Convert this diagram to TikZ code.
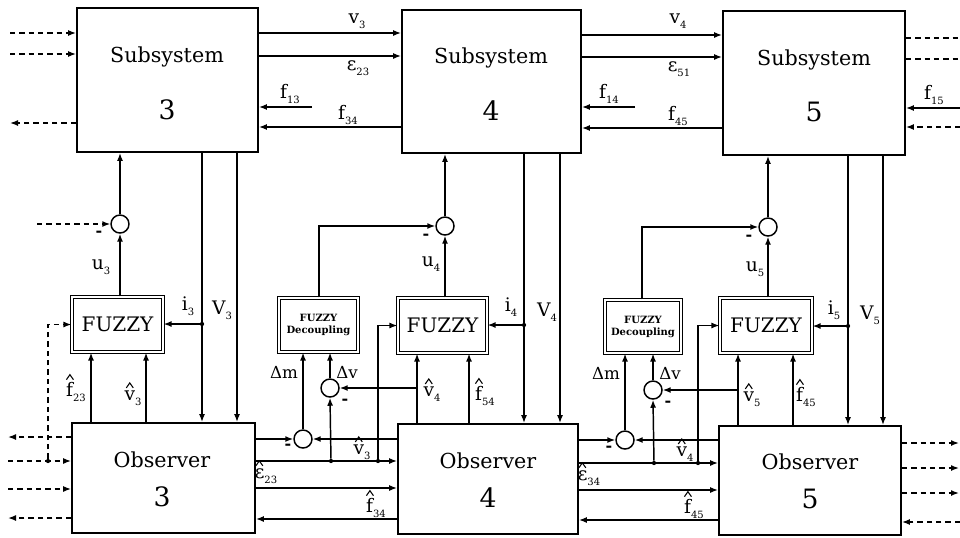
\documentclass[tikz,border=0pt]{standalone}
\usepackage{fontspec}
\setmainfont{DejaVu Serif}
\usetikzlibrary{arrows.meta,fit,calc}
\newcommand\sbs[1]{\raisebox{-0.5ex}{\fontsize{7.5}{7.5}\selectfont #1}}
\newcommand\hatmark[2]{\draw[hatst] ($(#1.north west)+(#2,0)+(-3.5,-2.5)$) -- ++(3.5,-5) -- ++(3.5,5);}
\tikzset{
  box/.style={draw, line width=1.3pt, inner sep=0pt},
  fz/.style={draw, double, double distance=1.4pt, line width=0.8pt, inner sep=0pt},
  sumc/.style={circle, draw, line width=1.1pt, minimum size=13.5pt, inner sep=0pt},
  ln/.style={line width=1.1pt},
  hatst/.style={line width=0.8pt, line join=miter},
  conn/.style={ln, -{Latex[length=6pt,width=4.5pt]}},
  dsh/.style={conn, dash pattern=on 4pt off 3pt},
  dshl/.style={ln, dash pattern=on 4pt off 3pt},
  lab/.style={font=\fontsize{14}{14}\selectfont, inner sep=0pt},
  dlab/.style={font=\fontsize{12.5}{12.5}\selectfont, inner sep=0pt},
  ttl/.style={font=\fontsize{15.5}{16}\selectfont, inner sep=0pt},
  num/.style={font=\fontsize{20}{20}\selectfont, inner sep=0pt},
  fzt/.style={font=\fontsize{15}{15}\selectfont, inner sep=0pt},
  dect/.style={font=\bfseries\fontsize{7.5}{9}\selectfont, align=center, inner sep=0pt},
  dotn/.style={circle, fill, minimum size=3.2pt, inner sep=0pt},
  minus/.style={font=\bfseries\fontsize{12}{12}\selectfont, inner sep=0pt}
}
\begin{document}
\begin{tikzpicture}[x=0.75pt,y=-0.75pt]
\useasboundingbox (0,0) rectangle (960,537);
% ---- boxes
\node[box, fit={(77,8)(258,152)}] (s3) {};
\node[box, fit={(402,10)(581,153)}] (s4) {};
\node[box, fit={(723,11)(905,155)}] (s5) {};
\node[ttl] (s3a) at (167,57) {Subsystem};
\node[num] (s3b) at (167,110) {3};
\node[ttl] (s4a) at (491,58) {Subsystem};
\node[num] (s4b) at (491,111) {4};
\node[ttl] (s5a) at (814,60) {Subsystem};
\node[num] (s5b) at (814,112) {5};

\node[box, fit={(72,423)(255,533)}] (o3) {};
\node[box, fit={(398,424)(578,534)}] (o4) {};
\node[box, fit={(719,426)(901,535)}] (o5) {};
\node[ttl] (o3a) at (162,460) {Observer};
\node[num] (o3b) at (162,497) {3};
\node[ttl] (o4a) at (488,461) {Observer};
\node[num] (o4b) at (488,498) {4};
\node[ttl] (o5a) at (810,462) {Observer};
\node[num] (o5b) at (810,499) {5};

\node[fz, fit={(72,297)(163,352)}] (f3) {};
\node[fzt] (f3t) at (f3.center) {FUZZY};
\node[fz, fit={(398,298)(487,353)}] (f4) {};
\node[fzt] (f4t) at (f4.center) {FUZZY};
\node[fz, fit={(720,298)(812,353)}] (f5) {};
\node[fzt] (f5t) at (f5.center) {FUZZY};
\node[fz, fit={(279,298)(358,352)}] (d4) {};
\node[dect] (d4t) at (d4.center) {FUZZY\\Decoupling};
\node[fz, fit={(605,300)(681,353)}] (d5) {};
\node[dect] (d5t) at (d5.center) {FUZZY\\Decoupling};

% ---- summing circles
\node[sumc] (c3) at (120,224) {};
\node[sumc] (c4) at (445,226) {};
\node[sumc] (c5) at (768,227) {};
\node[sumc] (cm4) at (303,439) {};
\node[sumc] (cv4) at (330,388) {};
\node[sumc] (cm5) at (625,440) {};
\node[sumc] (cv5) at (653,390) {};

% ---- free ends
\coordinate (L33) at (10,33);
\coordinate (L54) at (10,54);
\coordinate (L123) at (10,123);
\coordinate (R38) at (960,38);
\coordinate (R59) at (960,59);
\coordinate (R108) at (960,108);
\coordinate (R127) at (960,127);
\coordinate (F13) at (312,107);
\coordinate (F14) at (635,107);
\coordinate (Lc3) at (37,224);
\coordinate (L437) at (8,437);
\coordinate (L461) at (8,461);
\coordinate (L489) at (8,489);
\coordinate (L518) at (8,518);
\coordinate (R443) at (959,443);
\coordinate (R468) at (959,468);
\coordinate (R493) at (959,493);
\coordinate (R522) at (960,522);

% ---- top left dashed
\draw[dsh] (L33) -- (s3.west |- L33);
\draw[dsh] (L54) -- (s3.west |- L54);
\draw[dsh] (s3.west |- L123) -- (L123);
% ---- S3 <-> S4
\draw[conn] (s3.east |- 0,33) -- (s4.west |- 0,33);
\draw[conn] (s3.east |- 0,56) -- (s4.west |- 0,56);
\draw[conn] (F13) -- (s3.east |- F13);
\draw[conn] (s4.west |- 0,127) -- (s3.east |- 0,127);
\node[lab] (l1) at (357,21) {v\sbs{3}};
\node[lab] (l2) at (358,68) {ε\sbs{23}};
\node[lab] (l3) at (290,94) {f\sbs{13}};
\node[lab] (l4) at (348,115) {f\sbs{34}};
% ---- S4 <-> S5
\draw[conn] (s4.east |- 0,35) -- (s5.west |- 0,35);
\draw[conn] (s4.east |- 0,57) -- (s5.west |- 0,57);
\draw[conn] (F14) -- (s4.east |- F14);
\draw[conn] (s5.west |- 0,128) -- (s4.east |- 0,128);
\node[lab] (l5) at (678,21) {v\sbs{4}};
\node[lab] (l6) at (679,69) {ε\sbs{51}};
\node[lab] (l7) at (609,94) {f\sbs{14}};
\node[lab] (l8) at (678,116) {f\sbs{45}};
% ---- right of S5
\draw[dshl] (s5.east |- R38) -- (R38);
\draw[dshl] (s5.east |- R59) -- (R59);
\draw[conn] (R108) -- (s5.east |- R108);
\draw[dsh] (R127) -- (s5.east |- R127);
\node[lab] (l9) at (934,95) {f\sbs{15}};

% ---- column 3
\draw[conn] (c3.north) -- (c3 |- s3.south);
\draw[dsh] (Lc3) -- (c3.west);
\node[minus] (m3) at (99,234) {-};
\draw[conn] (c3 |- f3.north) -- (c3.south);
\node[lab] (l10) at (101,267) {u\sbs{3}};
\draw[conn] (s3.south -| 202,0) -- (o3.north -| 202,0);
\draw[conn] (s3.south -| 237,0) -- (o3.north -| 237,0);
\node[dotn] (i3) at (202,324) {};
\draw[conn] (i3) -- (f3.east |- i3);
\node[lab] (l11) at (188,306) {i\sbs{3}};
\node[lab] (l12) at (222,310) {V\sbs{3}};
\node[dotn] (d3) at (48,461) {};
\draw[dsh] (d3) |- (f3.west);
\draw[dsh] (o3.west |- L437) -- (L437);
\draw[dsh] (L461) -- (o3.west |- L461);
\draw[dsh] (L489) -- (o3.west |- L489);
\draw[dsh] (o3.west |- L518) -- (L518);
\draw[conn] (o3.north -| 91,0) -- (f3.south -| 91,0);
\draw[conn] (o3.north -| 146,0) -- (f3.south -| 146,0);
\node[lab] (l13) at (76,392) {f\sbs{23}};
\hatmark{l13}{4}
\node[lab] (l14) at (133,398) {v\sbs{3}};
\hatmark{l14}{5.5}

% ---- obs3 <-> obs4
\draw[conn] (o3.east |- cm4) -- (cm4.west);
\node[minus] (m41) at (288,447) {-};
\draw[conn] (o4.west |- cm4) -- (cm4.east);
\draw[conn] (o3.east |- 0,461) -- (o4.west |- 0,461);
\node[dotn] (a4) at (331,461) {};
\node[dotn] (b4) at (378,461) {};
\node[lab] (l15) at (362,452) {v\sbs{3}};
\hatmark{l15}{5.5}
\draw[conn] (a4) -- (cv4.south);
\node[minus] (m42) at (345,402) {-};
\draw[conn] (o4.north -| 417,0) -- (f4.south -| 417,0);
\coordinate (j4) at (417,388);
\draw[conn] (j4) -- (cv4.east);
\draw[conn] (cv4.north) -- (d4.south -| cv4);
\node[dlab] (l16) at (347,372) {Δv};
\draw[conn] (cm4.north) -- (d4.south -| cm4);
\node[dlab] (l17) at (284,372) {Δm};
\draw[conn] (b4) |- (f4.west);
\draw[conn] (o3.east |- 0,488) -- (o4.west |- 0,488);
\node[lab] (l18) at (266,476) {ε\sbs{23}};
\hatmark{l18}{4.8}
\draw[conn] (o4.west |- 0,519) -- (o3.east |- 0,519);
\node[lab] (l19) at (376,508) {f\sbs{34}};
\hatmark{l19}{4}

% ---- column 4
\draw[conn] (d4.north -| 319,0) |- (c4.west);
\node[minus] (m4) at (426,237) {-};
\draw[conn] (c4 |- f4.north) -- (c4.south);
\node[lab] (l20) at (431,264) {u\sbs{4}};
\draw[conn] (c4.north) -- (c4 |- s4.south);
\draw[conn] (s4.south -| 524,0) -- (o4.north -| 524,0);
\draw[conn] (s4.south -| 560,0) -- (o4.north -| 560,0);
\node[dotn] (i4) at (524,325) {};
\draw[conn] (i4) -- (f4.east |- i4);
\node[lab] (l21) at (511,307) {i\sbs{4}};
\node[lab] (l22) at (547,312) {V\sbs{4}};
\draw[conn] (o4.north -| 469,0) -- (f4.south -| 469,0);
\node[lab] (l23) at (432,394) {v\sbs{4}};
\hatmark{l23}{5.5}
\node[lab] (l24) at (485,396) {f\sbs{54}};
\hatmark{l24}{4}

% ---- obs4 <-> obs5
\draw[conn] (o4.east |- cm5) -- (cm5.west);
\node[minus] (m51) at (609,449) {-};
\draw[conn] (o5.west |- cm5) -- (cm5.east);
\draw[conn] (o4.east |- 0,463) -- (o5.west |- 0,463);
\node[dotn] (a5) at (654,463) {};
\node[dotn] (b5) at (698,463) {};
\node[lab] (l25) at (685,454) {v\sbs{4}};
\hatmark{l25}{5.5}
\draw[conn] (a5) -- (cv5.south);
\node[minus] (m52) at (668,404) {-};
\draw[conn] (o5.north -| 738,0) -- (f5.south -| 738,0);
\coordinate (j5) at (738,390);
\draw[conn] (j5) -- (cv5.east);
\draw[conn] (cv5.north) -- (d5.south -| cv5);
\node[dlab] (l26) at (670,373) {Δv};
\draw[conn] (cm5.north) -- (d5.south -| cm5);
\node[dlab] (l27) at (606,373) {Δm};
\draw[conn] (b5) |- (f5.west);
\draw[conn] (o4.east |- 0,490) -- (o5.west |- 0,490);
\node[lab] (l28) at (589,478) {ε\sbs{34}};
\hatmark{l28}{4.8}
\draw[conn] (o5.west |- 0,520) -- (o4.east |- 0,520);
\node[lab] (l29) at (694,509) {f\sbs{45}};
\hatmark{l29}{4}

% ---- column 5
\draw[conn] (d5.north -| 642,0) |- (c5.west);
\node[minus] (m5) at (749,238) {-};
\draw[conn] (c5 |- f5.north) -- (c5.south);
\node[lab] (l30) at (755,269) {u\sbs{5}};
\draw[conn] (c5.north) -- (c5 |- s5.south);
\draw[conn] (s5.south -| 848,0) -- (o5.north -| 848,0);
\draw[conn] (s5.south -| 883,0) -- (o5.north -| 883,0);
\node[dotn] (i5) at (848,326) {};
\draw[conn] (i5) -- (f5.east |- i5);
\node[lab] (l31) at (834,310) {i\sbs{5}};
\node[lab] (l32) at (870,315) {V\sbs{5}};
\draw[conn] (o5.north -| 793,0) -- (f5.south -| 793,0);
\node[lab] (l33) at (752,399) {v\sbs{5}};
\hatmark{l33}{5.5}
\node[lab] (l34) at (806,397) {f\sbs{45}};
\hatmark{l34}{4}

% ---- right of obs5
\draw[dsh] (o5.east |- R443) -- (R443);
\draw[dsh] (o5.east |- R468) -- (R468);
\draw[dsh] (o5.east |- R493) -- (R493);
\draw[dsh] (R522) -- (o5.east |- R522);
\end{tikzpicture}
\end{document}
